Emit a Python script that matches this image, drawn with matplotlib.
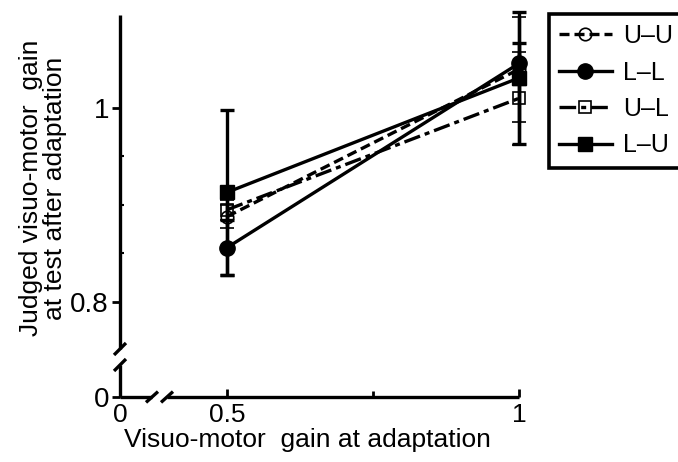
import numpy as np
import matplotlib
matplotlib.use('Agg')
import matplotlib.pyplot as plt

plt.rcParams['font.family'] = ['Liberation Sans', 'DejaVu Sans']

# 数据
gain = [0.5, 1.0]
labels = ['U\u2013U', 'L\u2013L', 'U\u2013L', 'L\u2013U']
uu = [0.888, 1.040]
uu_err = [0.012, 0.054]
ll = [0.856, 1.046]
ll_err = [0.028, 0.021]
ul = [0.895, 1.010]
ul_err = [0.010, 0.048]
lu = [0.913, 1.031]
lu_err = [0.085, 0.068]

# 断轴的假坐标
x0_fake = 0.3169
y0_fake = 0.702

fig = plt.figure(figsize=(6.78, 4.62), dpi=100)
ax = fig.add_axes([120 / 678, 1 - 397 / 462, 399 / 678, 382 / 462])

lw = 2.4
common = dict(color='black', lw=lw, elinewidth=lw, capsize=5, capthick=lw,
              clip_on=False)
h_uu = ax.errorbar(gain, uu, yerr=uu_err, fmt='o', ls=(0, (3, 1.5)), mfc='none',
                   mew=1.2, markersize=9, label=labels[0], zorder=3, **common)
h_ll = ax.errorbar(gain, ll, yerr=ll_err, fmt='o', ls='-', markersize=11,
                   label=labels[1], zorder=4, **common)
h_ul = ax.errorbar(gain, ul, yerr=ul_err, fmt='s', ls=(0, (5, 1.5, 1.5, 1.5)),
                   mfc='none', mew=1.2, markersize=9, label=labels[2],
                   zorder=3, **common)
h_lu = ax.errorbar(gain, lu, yerr=lu_err, fmt='s', ls='-', markersize=10,
                   label=labels[3], zorder=5, **common)

ax.set_xlim(x0_fake, 1.0)
ax.set_ylim(y0_fake, 1.0959)

ax.set_xticks([x0_fake, 0.5, 1.0])
ax.set_xticklabels(['0', '0.5', '1'])
ax.set_xticks([0.75], minor=True)
ax.set_yticks([y0_fake, 0.8, 1.0])
ax.set_yticklabels(['0', '0.8', '1'])
ax.set_yticks([0.85, 0.9, 0.95], minor=True)

ax.tick_params(axis='x', which='major', direction='in', length=6, width=2,
               labelsize=19, pad=4)
ax.tick_params(axis='x', which='minor', direction='in', length=4, width=2)
ax.tick_params(axis='y', which='major', direction='out', length=6, width=2,
               labelsize=20, pad=2)
ax.tick_params(axis='y', which='minor', direction='in', length=3, width=1.5)

for s in ax.spines.values():
    s.set_visible(False)

# 画断开的坐标轴
kw = dict(transform=ax.transAxes, color='black', lw=2.4, clip_on=False,
          solid_capstyle='butt')
ax.plot([0, 0], [1.0, 0.1257], **kw)
ax.plot([0, 0], [0.0838, 0], **kw)
ax.plot([0, 0.0802], [0, 0], **kw)
ax.plot([0.1178, 1.0], [0, 0], **kw)
dx, dy = 0.015, 0.0157
for cy in [0.1257, 0.0838]:
    ax.plot([-dx, dx], [cy - dy, cy + dy], **kw)
for cx in [0.0802, 0.1178]:
    ax.plot([cx - dx, cx + dx], [-dy * 0.9, dy * 0.9], **kw)

fig.text(307 / 678, 1 - 440 / 462, 'Visuo-motor  gain at adaptation',
         fontsize=19, ha='center', va='center')
fig.text(43 / 678, 1 - 188 / 462, 'Judged visuo-motor  gain\nat test after adaptation',
         rotation=90, fontsize=19, ha='center', va='center',
         linespacing=1.05)

handles = [h_uu[0], h_ll[0], h_ul[0], h_lu[0]]
leg = ax.legend(handles, labels, loc='upper left',
                bbox_to_anchor=(549 / 678, 1 - 14 / 462),
                bbox_transform=fig.transFigure, fontsize=18, frameon=True,
                fancybox=False, edgecolor='black', handlelength=2.1,
                borderpad=0.4, labelspacing=0.5, handletextpad=0.45,
                borderaxespad=0, framealpha=1)
leg.get_frame().set_linewidth(2.6)

fig.savefig('out.png', dpi=100)
